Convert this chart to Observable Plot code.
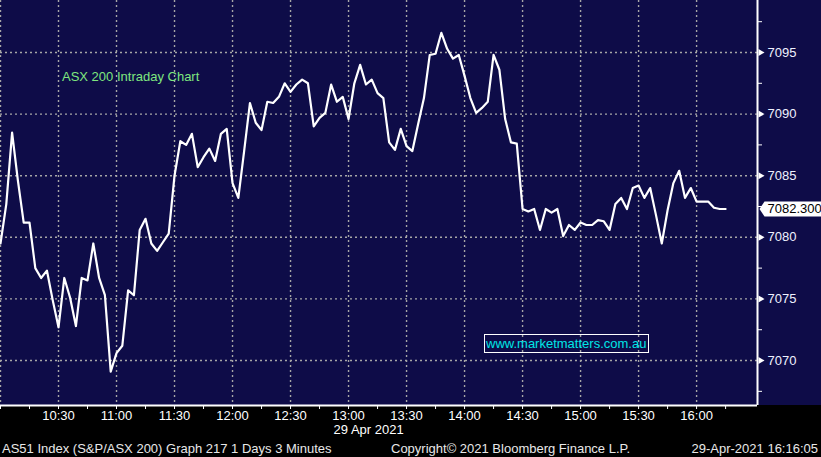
<!DOCTYPE html>
<html><head><meta charset="utf-8">
<script src="https://cdn.jsdelivr.net/npm/d3@7"></script>
<script src="https://cdn.jsdelivr.net/npm/@observablehq/plot@0.6"></script>
<style>
html,body{margin:0;padding:0;background:#000;}
#wrap{position:relative;width:821px;height:457px;overflow:hidden;background:linear-gradient(to bottom,#0e0c48 0px,#0e0c48 405px,#000 405px,#000 100%);font-family:"Liberation Sans",Arial,sans-serif;}
#chart svg{display:block;}
.title{position:absolute;left:62px;top:69px;font-size:13px;line-height:15px;color:#7fe67f;white-space:nowrap;}
.url{position:absolute;left:484px;top:334px;width:165px;height:19px;box-sizing:border-box;border:1px solid #fff;color:#00e6e6;font-size:13px;line-height:17px;padding-left:1px;white-space:nowrap;}
.foot{position:absolute;top:441px;font-size:13px;line-height:15px;color:#e8e8e8;white-space:nowrap;}
</style>
</head><body>
<div id="wrap">
  <div id="chart"></div>
  <div class="title">ASX 200 Intraday Chart</div>
  <div class="url">www.marketmatters.com.au</div>
  <div class="foot" style="left:2px">AS51 Index (S&amp;P/ASX 200) Graph 217 1 Days 3 Minutes</div>
  <div class="foot" style="left:391px">Copyright© 2021 Bloomberg Finance L.P.</div>
  <div class="foot" style="right:3px">29-Apr-2021 16:16:05</div>
</div>
<script>
// ---- data ----
const sessionDate = "29 Apr 2021";
const startTime = "10:00";
const stepMinutes = 3;
const values = [
 7079.5, 7082.7, 7088.5, 7084.6, 7081.2, 7081.2, 7077.5, 7076.7, 7077.3, 7074.9,
 7072.7, 7076.7, 7075.1, 7072.8, 7076.7, 7076.5, 7079.5, 7076.7, 7075.3, 7069.1,
 7070.6, 7071.2, 7075.7, 7075.3, 7080.6, 7081.5, 7079.5, 7078.9, 7079.6, 7080.3,
 7085.0, 7087.8, 7087.5, 7088.4, 7085.7, 7086.5, 7087.2, 7086.2, 7088.4, 7088.8,
 7084.4, 7083.2, 7087.0, 7090.9, 7089.3, 7088.7, 7091.0, 7090.9, 7091.4, 7092.5,
 7091.8, 7092.4, 7092.8, 7092.5, 7089.0, 7089.7, 7090.1, 7092.4, 7091.0, 7091.4,
 7089.6, 7092.5, 7094.0, 7092.4, 7092.8, 7091.7, 7091.3, 7087.7, 7087.1, 7088.8,
 7087.4, 7087.0, 7089.2, 7091.3, 7094.8, 7094.9, 7096.6, 7095.3, 7094.5, 7094.8,
 7093.1, 7091.3, 7090.1, 7090.5, 7091.0, 7094.8, 7093.6, 7089.6, 7087.7, 7087.6,
 7082.3, 7082.1, 7082.3, 7080.6, 7082.3, 7082.0, 7082.3, 7080.1, 7081.0, 7080.6,
 7081.2, 7081.0, 7081.0, 7081.4, 7081.3, 7080.6, 7082.7, 7083.2, 7082.3, 7084.0,
 7084.2, 7083.2, 7084.0, 7081.8, 7079.5, 7082.2, 7084.4, 7085.4, 7083.2, 7084.0,
 7082.9, 7082.9, 7082.9, 7082.4, 7082.3, 7082.3
];
const xTickLabels = ["10:30","11:00","11:30","12:00","12:30","13:00","13:30","14:00","14:30","15:00","15:30","16:00"];
const yTickLabels = [7070, 7075, 7080, 7085, 7090, 7095];
const yMinorTicks = [7067.5, 7072.5, 7077.5, 7082.5, 7087.5, 7092.5, 7097.5];

// ---- build ----
const base = Date.UTC(2021, 3, 29, 0, 0);
const toDate = s => { const [h, m] = s.split(":").map(Number); return new Date(base + (h * 60 + m) * 60000); };
const t0 = toDate(startTime);
const data = values.map((v, i) => ({time: new Date(+t0 + i * stepMinutes * 60000), value: v}));
const xMin = t0;
const xMax = new Date(+t0 + 391.5 * 60000);
const yMin = 7066.35, yMax = 7099.22;
const gridTimes = [t0, ...xTickLabels.map(toDate)];
const tickTimes = d3.utcMinute.every(15).range(t0, new Date(+t0 + 375 * 60000 + 1));
const fmt = d3.utcFormat("%H:%M");
const lastValue = values[values.length - 1];
const labelDate = toDate("13:00");

const boxSymbol = {
  draw(ctx) {
    ctx.moveTo(2, 0);
    ctx.lineTo(7, -7.5);
    ctx.lineTo(70, -7.5);
    ctx.lineTo(70, 7.5);
    ctx.lineTo(7, 7.5);
    ctx.closePath();
  }
};

const gridStyle = {stroke: "#a6a6a6", strokeOpacity: 1, strokeWidth: 1.4, strokeDasharray: "2,3"};

const chart = Plot.plot({
  width: 821, height: 440,
  marginLeft: 0, marginRight: 64, marginTop: 0, marginBottom: 35,
  style: {background: "transparent", color: "white", fontFamily: "Liberation Sans, Arial, sans-serif", fontSize: "13px", overflow: "visible"},
  x: {type: "utc", domain: [xMin, xMax]},
  y: {domain: [yMin, yMax]},
  marks: [
    Plot.gridX(gridTimes, gridStyle),
    Plot.gridY(yTickLabels, gridStyle),
    Plot.axisX(tickTimes, {tickSize: 4, tickPadding: 1, label: null, fill: "white", stroke: "white",
      tickFormat: d => xTickLabels.includes(fmt(d)) ? fmt(d) : ""}),
    Plot.ruleY([yMin], {stroke: "white", strokeWidth: 2}),
    Plot.ruleX([xMax], {stroke: "white", strokeWidth: 2}),
    Plot.axisY(yMinorTicks, {anchor: "right", tickSize: 4, label: null, tickFormat: () => "", stroke: "white"}),
    Plot.axisY(yTickLabels, {anchor: "right", tickSize: 0, tickPadding: 10, label: null, fill: "#eef2ff", tickFormat: d => String(d)}),
    Plot.dot(yTickLabels, {y: d => d, frameAnchor: "right", dx: 3, symbol: "triangle", rotate: 90, r: 2.6, fill: "white", stroke: "none"}),
    Plot.line(data, {x: "time", y: "value", stroke: "white", strokeWidth: 2.2}),
    Plot.dot([lastValue], {y: d => d, frameAnchor: "right", symbol: boxSymbol, fill: "white", stroke: "none"}),
    Plot.text([lastValue], {y: d => d, frameAnchor: "right", dx: 10, textAnchor: "start", fill: "black", text: d => d.toFixed(3)}),
    Plot.text([sessionDate], {x: () => labelDate, frameAnchor: "bottom", dy: 28, dx: -15, textAnchor: "start", fill: "white"})
  ]
});
document.getElementById("chart").appendChild(chart);
</script>
</body></html>
